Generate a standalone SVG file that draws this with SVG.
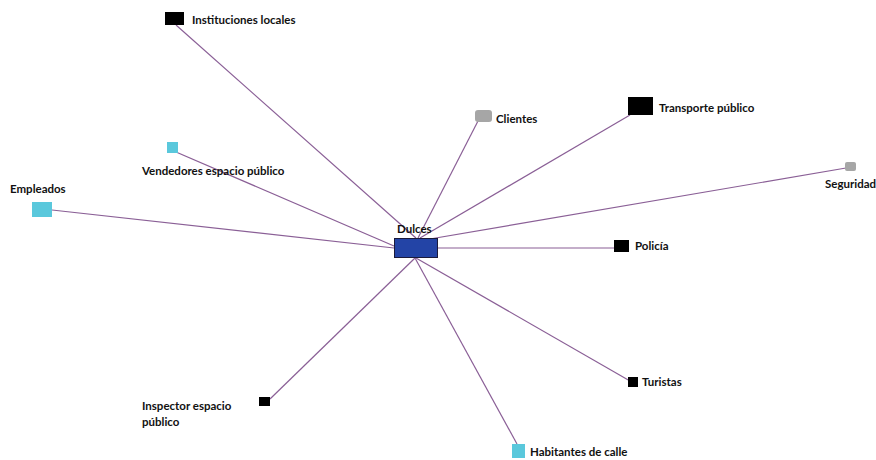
<svg xmlns="http://www.w3.org/2000/svg" width="876" height="460" viewBox="0 0 876 460">
<style>
text{font-family:Lato,"Liberation Sans",sans-serif;font-size:11.5px;font-weight:bold;fill:#111}
.edge{stroke:#8a5f96;stroke-width:1.2;fill:none}
.blk{fill:#000}
.cyan{fill:#5ac8dc}
.gray{fill:#a6a6a6}
</style>
<rect width="876" height="460" fill="#fff"/>
<g id="connectors">
<line class="edge" x1="176" y1="25" x2="416" y2="238"/>
<line class="edge" x1="478" y1="121" x2="418" y2="238"/>
<line class="edge" x1="630" y1="115" x2="420" y2="238"/>
<line class="edge" x1="846" y1="168" x2="424" y2="240"/>
<line class="edge" x1="614" y1="248" x2="438" y2="248"/>
<line class="edge" x1="630" y1="381" x2="416" y2="258"/>
<line class="edge" x1="517" y1="444" x2="415" y2="258"/>
<line class="edge" x1="270" y1="399" x2="415" y2="258"/>
<line class="edge" x1="52" y1="210" x2="394" y2="248"/>
<line class="edge" x1="176" y1="152" x2="394" y2="246"/>
</g>
<g id="dulces">
<rect x="394.5" y="238.5" width="43" height="19" fill="#2344a6" stroke="#1a1a3a" stroke-width="1"/>
<text x="397" y="233">Dulces</text>
</g>
<g id="instituciones">
<rect class="blk" x="165" y="12" width="19" height="13"/>
<text x="192" y="24">Instituciones locales</text>
</g>
<g id="clientes">
<rect class="gray" x="475" y="110" width="17" height="12" rx="3"/>
<text x="496" y="123">Clientes</text>
</g>
<g id="transporte">
<rect class="blk" x="628" y="97" width="25" height="18"/>
<text x="659" y="112">Transporte público</text>
</g>
<g id="seguridad">
<rect class="gray" x="845" y="162" width="11" height="9" rx="2"/>
<text x="825" y="188">Seguridad</text>
</g>
<g id="empleados">
<rect class="cyan" x="32" y="202" width="20" height="15"/>
<text x="10" y="193">Empleados</text>
</g>
<g id="vendedores">
<rect class="cyan" x="167" y="142" width="11" height="11"/>
<text x="142" y="175">Vendedores espacio público</text>
</g>
<g id="policia">
<rect class="blk" x="614" y="240" width="15" height="12"/>
<text x="635" y="250">Policía</text>
</g>
<g id="turistas">
<rect class="blk" x="628" y="377" width="10" height="10"/>
<text x="642" y="386">Turistas</text>
</g>
<g id="habitantes">
<rect class="cyan" x="512" y="444" width="13" height="14"/>
<text x="530" y="456">Habitantes de calle</text>
</g>
<g id="inspector">
<rect class="blk" x="259" y="397" width="11" height="9"/>
<text x="142" y="410">Inspector espacio</text>
<text x="142" y="426">público</text>
</g>
</svg>
